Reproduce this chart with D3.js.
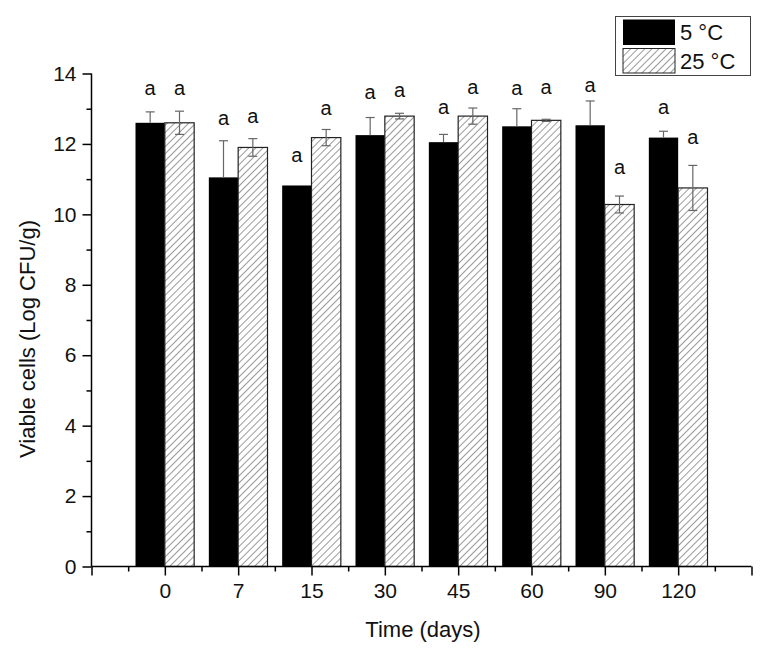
<!DOCTYPE html>
<html><head><meta charset="utf-8">
<script src="https://cdn.jsdelivr.net/npm/d3@7"></script>
<style>body{margin:0;background:#fff;} text{font-family:Arial,"Liberation Sans",sans-serif;}</style>
</head><body><svg id="c" width="766" height="656"></svg>
<script>
const categories = ["0","7","15","30","45","60","90","120"];
const seriesNames = ["5 °C","25 °C"];
const values5 = [12.60,11.05,10.82,12.25,12.05,12.50,12.53,12.18];
const err5 = [0.31,1.04,0.0,0.50,0.22,0.50,0.69,0.18];
const values25 = [12.60,11.90,12.18,12.79,12.79,12.67,10.28,10.75];
const err25 = [0.33,0.25,0.23,0.08,0.23,0.03,0.24,0.64];
const letters5 = ["a","a","a","a","a","a","a","a"];
const letters25 = ["a","a","a","a","a","a","a","a"];
const letterY5 = [13.39,12.55,11.48,13.29,12.86,13.38,13.47,12.86];
const letterY25 = [13.39,12.60,12.82,13.34,13.43,13.43,11.16,12.00];
const yTicks = [0,2,4,6,8,10,12,14];

const svg = d3.select("#c");
const defs = svg.append("defs");
const pat = defs.append("pattern").attr("id","hatch").attr("patternUnits","userSpaceOnUse")
  .attr("width",5).attr("height",5).attr("patternTransform","rotate(45)");
pat.append("rect").attr("width",5).attr("height",5).attr("fill","#fff");
pat.append("line").attr("x1",0).attr("y1",0).attr("x2",0).attr("y2",5).attr("stroke","#555").attr("stroke-width",1.2);

const x = d3.scaleLinear().domain([0,9]).range([91.5,751.5]);
const y = d3.scaleLinear().domain([0,14]).range([566.5,73.5]);
const bw = x(0.4)-x(0);

const g = svg.append("g");
categories.forEach((c,i)=>{
  const cx = x(i+1);
  g.append("rect").attr("x",cx-bw).attr("y",y(values5[i])).attr("width",bw).attr("height",y(0)-y(values5[i])).attr("fill","#000");
  g.append("rect").attr("x",cx).attr("y",y(values25[i])).attr("width",bw).attr("height",y(0)-y(values25[i]))
    .attr("fill","url(#hatch)").attr("stroke","#222").attr("stroke-width",1.2);
});
const eg = svg.append("g").attr("stroke","#666").attr("stroke-width",1.2).attr("fill","none");
categories.forEach((c,i)=>{
  const cx = x(i+1);
  const bx = cx-bw/2, hx = cx+bw/2, cap=4.5;
  if(err5[i]>0){
    eg.append("line").attr("x1",bx).attr("x2",bx).attr("y1",y(values5[i])).attr("y2",y(values5[i]+err5[i]));
    eg.append("line").attr("x1",bx-cap).attr("x2",bx+cap).attr("y1",y(values5[i]+err5[i])).attr("y2",y(values5[i]+err5[i]));
  }
  const hi=y(values25[i]+err25[i]), lo=y(values25[i]-err25[i]);
  eg.append("line").attr("x1",hx).attr("x2",hx).attr("y1",lo).attr("y2",hi);
  eg.append("line").attr("x1",hx-cap).attr("x2",hx+cap).attr("y1",hi).attr("y2",hi);
  eg.append("line").attr("x1",hx-cap).attr("x2",hx+cap).attr("y1",lo).attr("y2",lo);
});
categories.forEach((c,i)=>{
  const cx = x(i+1);
  svg.append("text").attr("x",cx-bw/2).attr("y",y(letterY5[i])).attr("text-anchor","middle").attr("font-size",20).attr("fill","#111").text(letters5[i]);
  svg.append("text").attr("x",cx+bw/2).attr("y",y(letterY25[i])).attr("text-anchor","middle").attr("font-size",20).attr("fill","#111").text(letters25[i]);
});

const ya = svg.append("g").attr("transform",`translate(${x(0)},0)`)
  .call(d3.axisLeft(y).tickValues(yTicks).tickSize(9).tickPadding(6).tickFormat(d3.format("d")));
const yMinor = svg.append("g").attr("transform",`translate(${x(0)},0)`)
  .call(d3.axisLeft(y).tickValues(d3.range(1,14,2)).tickSize(5).tickFormat(""));
yMinor.select(".domain").remove();
const xa = svg.append("g").attr("transform",`translate(0,${y(0)})`)
  .call(d3.axisBottom(x).tickValues(d3.range(0,10)).tickSize(9).tickPadding(8)
    .tickFormat(d=> (d>=1 && d<=8) ? categories[d-1] : ""));
const xMinor = svg.append("g").attr("transform",`translate(0,${y(0)})`)
  .call(d3.axisBottom(x).tickValues(d3.range(0.5,9,1)).tickSize(5).tickFormat(""));
xMinor.select(".domain").remove();
svg.selectAll(".domain").attr("stroke","#000").attr("stroke-width",1.5);
svg.selectAll(".tick line").attr("stroke","#000").attr("stroke-width",1.5);
ya.selectAll(".tick text").attr("font-size",21).attr("fill","#111");
xa.selectAll(".tick text").attr("font-size",21).attr("fill","#111");
ya.select(".domain").attr("d",`M0,${y(0)}V${y(14)}`);
xa.select(".domain").attr("d",`M${x(0)},0H${x(9)}`);

svg.append("text").attr("x",423).attr("y",637).attr("text-anchor","middle").attr("font-size",22).attr("fill","#111").text("Time (days)");
svg.append("text").attr("transform",`translate(35,339) rotate(-90)`).attr("text-anchor","middle").attr("font-size",22).attr("fill","#111").text("Viable cells (Log CFU/g)");

const lg = svg.append("g");
lg.append("rect").attr("x",615.5).attr("y",16.5).attr("width",135).attr("height",59).attr("fill","#fff").attr("stroke","#444").attr("stroke-width",1);
lg.append("rect").attr("x",623).attr("y",19.5).attr("width",52).attr("height",25.5).attr("fill","#000");
lg.append("rect").attr("x",623).attr("y",48.5).attr("width",52).attr("height",24.5).attr("fill","url(#hatch)").attr("stroke","#222");
lg.append("text").attr("x",680).attr("y",39.5).attr("font-size",22).attr("fill","#111").text(seriesNames[0]);
lg.append("text").attr("x",680).attr("y",69).attr("font-size",22).attr("fill","#111").text(seriesNames[1]);
</script></body></html>
